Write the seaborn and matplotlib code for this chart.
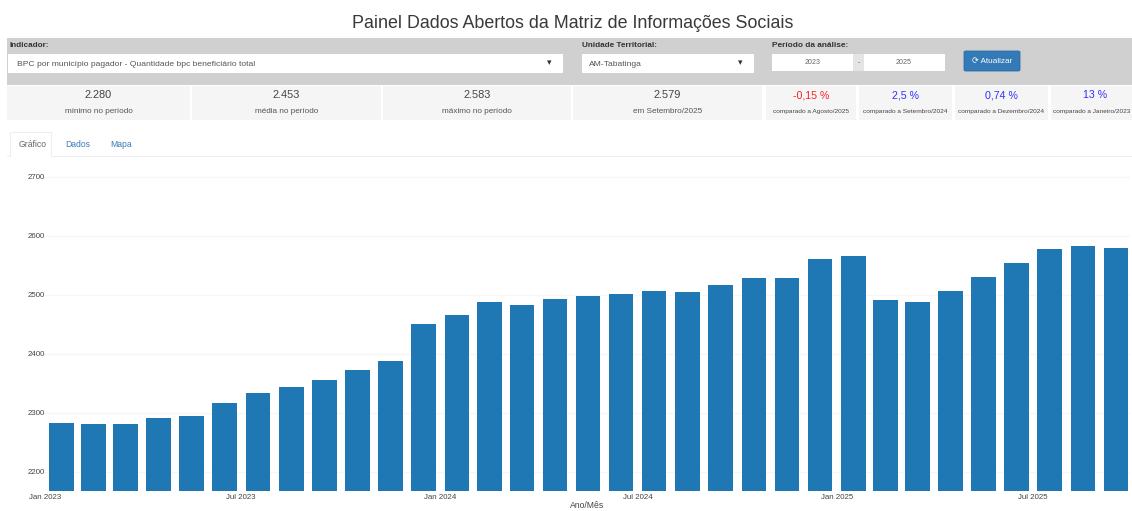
import matplotlib
matplotlib.use("Agg")
import matplotlib.pyplot as plt
import matplotlib.dates as mdates
from matplotlib.patches import Rectangle, FancyBboxPatch
import numpy as np
import pandas as pd
import seaborn as sns

W, H = 1132, 511

title = "Painel Dados Abertos da Matriz de Informações Sociais"
values = [2283, 2280, 2280, 2291, 2295, 2316, 2334, 2344, 2355, 2372, 2388,
          2450, 2465, 2487, 2483, 2492, 2498, 2501, 2506, 2505, 2516, 2529,
          2528, 2560, 2565, 2491, 2488, 2506, 2530, 2553, 2577, 2583, 2579]
y_ticks = [2200, 2300, 2400, 2500, 2600, 2700]
x_tick_dates = ["2023-01-01", "2023-07-01", "2024-01-01", "2024-07-01", "2025-01-01", "2025-07-01"]
x_tick_labels = ["Jan 2023", "Jul 2023", "Jan 2024", "Jul 2024", "Jan 2025", "Jul 2025"]
kpi_values = ["2.280", "2.453", "2.583", "2.579"]
kpi_captions = ["mínimo no período", "média no período", "máximo no período", "em Setembro/2025"]
cmp_values = ["-0,15 %", "2,5 %", "0,74 %", "13 %"]
cmp_captions = ["comparado a Agosto/2025", "comparado a Setembro/2024",
                "comparado a Dezembro/2024", "comparado a Janeiro/2023"]
tabs = ["Gráfico", "Dados", "Mapa"]

sns.set_theme(style="white")
plt.rcParams["font.family"] = ["Liberation Sans", "DejaVu Sans"]

fig = plt.figure(figsize=(W / 100, H / 100), dpi=100, facecolor="white")
pt = 0.72  # pixels to points at dpi 100


def fx(x):
    return x / W


def fy(y):
    return 1 - y / H


def rect(x0, y0, x1, y1, color, **kw):
    fig.add_artist(Rectangle((fx(x0), fy(y1)), (x1 - x0) / W, (y1 - y0) / H,
                             transform=fig.transFigure, facecolor=color,
                             edgecolor="none", **kw))


def txt(x, y, s, px, color="#444444", ha="center", **kw):
    fig.text(fx(x), fy(y), s, fontsize=px * pt, color=color, ha=ha, va="center", **kw)


# title
txt(572.5, 23, title, 17.85, "#3a3a3a")

# filter band
rect(7, 38, W, 85, "#d0d0d0")
txt(10, 45.5, "Indicador:", 8.2, "#333333", ha="left", fontweight="bold")
rect(8, 54, 563, 73, "white")
txt(17, 64, "BPC por município pagador - Quantidade bpc beneficiário total", 8.5, "#555555", ha="left")
txt(549, 63, "▾", 9, "#333333", family=["DejaVu Sans"])
txt(582, 45.5, "Unidade Territorial:", 8.1, "#333333", ha="left", fontweight="bold")
rect(582, 54, 754, 73, "white")
txt(589, 64, "AM-Tabatinga", 8.5, "#555555", ha="left")
txt(740, 63, "▾", 9, "#333333", family=["DejaVu Sans"])
txt(772, 45.5, "Período da análise:", 8.3, "#333333", ha="left", fontweight="bold")
rect(772, 54, 853, 71, "white")
rect(853, 54, 864, 71, "#e4e4e4")
rect(864, 54, 945, 71, "white")
txt(813, 62.5, "2023", 7.2, "#666666")
txt(858.5, 62.5, "-", 7.2, "#666666")
txt(904, 62.5, "2025", 7.2, "#666666")
fig.add_artist(FancyBboxPatch((fx(964), fy(71)), 56 / W, 20 / H, transform=fig.transFigure,
                              boxstyle="round,pad=0,rounding_size=0.002",
                              facecolor="#337ab7", edgecolor="#2e6da4", linewidth=0.6))
txt(992.5, 61.5, "⟳ Atualizar", 8.2, "white")

# KPI row
cells = [(7, 190), (192, 381), (383, 571), (573, 762), (766, 856), (859, 952), (955, 1048), (1051, W)]
for c0, c1 in cells:
    rect(c0, 86, c1, 120, "#f5f5f5")
for (c0, c1), v, cap in zip(cells[:4], kpi_values, kpi_captions):
    txt((c0 + c1) / 2, 95, v, 11, "#444444")
    txt((c0 + c1) / 2, 111.5, cap, 8.2, "#555555")
cmp_colors = ["#ff2020", "#3030ff", "#3030ff", "#3030ff"]
cmp_centers = [811, 905.5, 1001.5, 1092]
for cx, v, cap, col in zip(cmp_centers, cmp_values, cmp_captions, cmp_colors):
    txt(cx if v != "13 %" else 1095, 95, v, 10.6, col)
    txt(cx, 112, cap, 6.5, "#444444")

# tabs
rect(7, 156, W, 157, "#eeeeee")
rect(10, 132, 52, 133, "#eeeeee")
rect(10, 132, 11, 157, "#eeeeee")
rect(51, 132, 52, 157, "#eeeeee")
rect(11, 155, 51, 158, "white")
for x, s, c in zip([32.5, 78, 121], tabs, ["#666666", "#3a7ab8", "#3a7ab8"]):
    txt(x, 144.5, s, 8.6, c)

# chart: positions sit at mid-month on a date axis
px_per_day = 1.083
starts = pd.date_range("2023-01-01", periods=len(values), freq="MS")
ends = starts + pd.offsets.MonthBegin(1)
mid = mdates.date2num(starts) + (mdates.date2num(ends) - mdates.date2num(starts)) / 2
base = mdates.date2num(pd.Timestamp("2023-01-01"))
frame = pd.DataFrame({"month": mid, "value": values})

ax_left, ax_right, ax_top, ax_bottom = 44, 1130, 166, 491
ax = fig.add_axes([fx(ax_left), fy(ax_bottom), (ax_right - ax_left) / W, (ax_bottom - ax_top) / H])
ax.set_facecolor("none")
sns.barplot(data=frame, x="month", y="value", native_scale=True, width=0.77,
            color="#1f77b4", saturation=1, linewidth=0, ax=ax, zorder=3)
ax.set_xlim(base + (ax_left - 45) / px_per_day, base + (ax_right - 45) / px_per_day)
px_per_unit = 0.59
ax.set_ylim(2200 - (ax_bottom - 471.7) / px_per_unit, 2200 + (471.7 - ax_top) / px_per_unit)
ax.set_yticks(y_ticks)
ax.set_yticklabels([str(t) for t in y_ticks])
ax.set_xticks(mdates.date2num(pd.to_datetime(x_tick_dates)))
ax.set_xticklabels(x_tick_labels)
ax.tick_params(axis="both", length=0, labelsize=7.9 * pt, labelcolor="#444444")
ax.tick_params(axis="x", pad=2.2)
ax.tick_params(axis="y", pad=-1)
ax.grid(axis="y", color="#f6f6f6", linewidth=1)
ax.grid(axis="x", visible=False)
ax.set_axisbelow(True)
ax.set_xlabel("")
ax.set_ylabel("")
sns.despine(ax=ax, left=True, bottom=True)
txt(587, 505.5, "Ano/Mês", 8.6, "#444444")

fig.savefig("out.png", dpi=100)
